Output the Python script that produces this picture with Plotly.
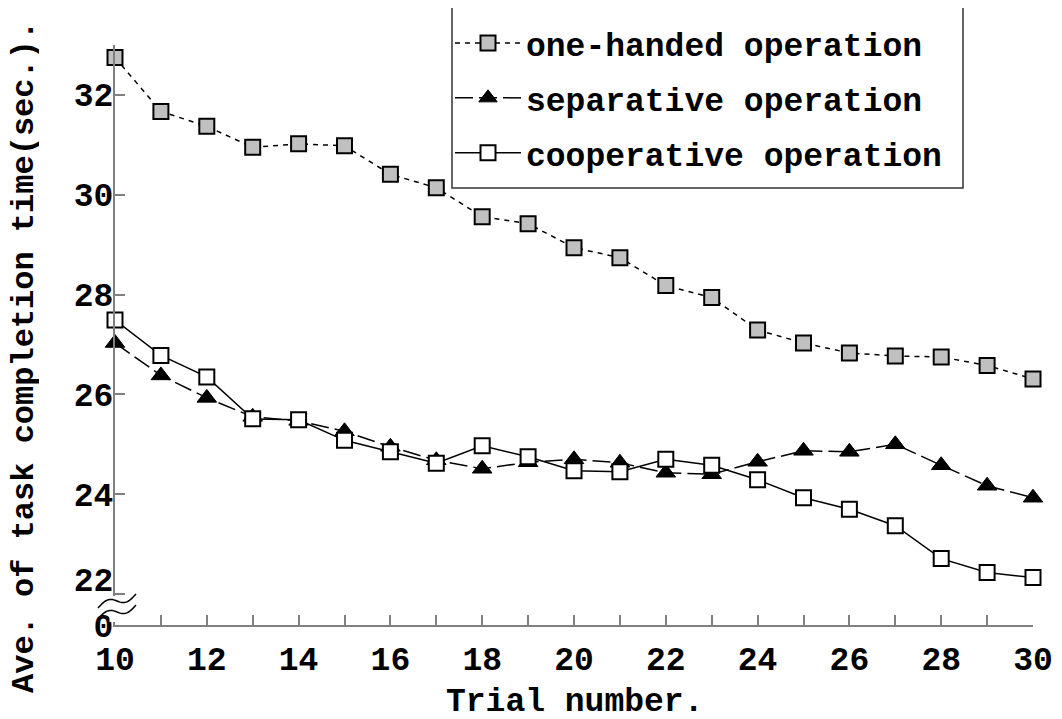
import numpy as np
import plotly.graph_objects as go

# ---------------- data ----------------
trials = list(range(10, 31))
one_handed = [32.75, 31.67, 31.37, 30.95, 31.02, 30.98, 30.41, 30.14, 29.56, 29.42,
              28.94, 28.74, 28.18, 27.94, 27.29, 27.03, 26.83, 26.77, 26.75, 26.58, 26.31]
separative = [27.03, 26.38, 25.93, 25.55, 25.47, 25.26, 24.95, 24.68, 24.51, 24.64,
              24.70, 24.63, 24.43, 24.40, 24.65, 24.87, 24.85, 25.00, 24.58, 24.17, 23.93]
cooperative = [27.49, 26.78, 26.35, 25.51, 25.49, 25.08, 24.85, 24.62, 24.97, 24.75,
               24.47, 24.45, 24.70, 24.58, 24.29, 23.93, 23.70, 23.37, 22.71, 22.43, 22.33]
series_names = ["one-handed operation", "separative operation", "cooperative operation"]
x_tick_vals = [10, 12, 14, 16, 18, 20, 22, 24, 26, 28, 30]
y_tick_vals = [22, 24, 26, 28, 30, 32]
y_tick_labels = ["0", "22", "24", "26", "28", "30", "32"]
x_title = "Trial number."
y_title = "Ave. of task completion time(sec.)."

# ---------------- layout constants ----------------
OFF = 8                      # page (body) margin of the html page
W, H = 1062 - OFF, 719 - OFF
L, R, T, B = 115 - OFF, 29, 45 - OFF, 94
Y_BOTTOM = 21.38   # axis value drawn at the "0" position (below the break)
Y_TOP = 33.0
FONT = "Liberation Mono, Courier New, monospace"
AX_COLOR = "#808080"

fig = go.Figure()
fig.add_trace(go.Scatter(
    x=trials, y=one_handed, name=series_names[0], mode="lines+markers",
    line=dict(color="black", width=1.5, dash="5px,5px"),
    marker=dict(symbol="square", size=15, color="#c0c0c0", line=dict(color="black", width=2)),
    cliponaxis=False, legendgroup="a"))
fig.add_trace(go.Scatter(
    x=trials, y=separative, name=series_names[1], mode="lines+markers",
    line=dict(color="black", width=1.5, dash="18px,6px"),
    marker=dict(symbol="triangle-up", size=17, color="black", line=dict(color="black", width=1)),
    cliponaxis=False, legendgroup="b"))
fig.add_trace(go.Scatter(
    x=trials, y=cooperative, name=series_names[2], mode="lines+markers",
    line=dict(color="black", width=1.5),
    marker=dict(symbol="square", size=15, color="white", line=dict(color="black", width=2)),
    cliponaxis=False, legendgroup="c"))

pw = W - L - R
ph = H - T - B

def px2paper(px, py):
    """screen pixel (in the 1062x719 window) -> paper coordinates"""
    return (px - OFF - L) / pw, (H - B - (py - OFF)) / ph

# break in y axis: white cover + two wavy lines
shapes = []
shapes.append(dict(type="rect", xref="paper", yref="y", x0=-0.006, x1=0.006,
                   y0=21.44, y1=21.96, fillcolor="white", line=dict(width=0), layer="above"))
for off in (0, 11):
    pts = []
    for t in np.linspace(0, 1, 30):
        bx = 98 + t * 38
        by = 608 + off - t * 14 - 4.5 * np.sin(2 * np.pi * t)
        pts.append(px2paper(bx, by))
    path = "M " + " L ".join(f"{a:.5f},{b:.5f}" for a, b in pts)
    shapes.append(dict(type="path", xref="paper", yref="paper", path=path,
                       line=dict(color="black", width=1.5), layer="above"))

# legend frame
lx0, ly0 = px2paper(452, 188)
lx1, ly1 = px2paper(963, 7)
shapes.append(dict(type="rect", xref="paper", yref="paper", x0=lx0, x1=lx1, y0=ly0, y1=ly1,
                   line=dict(color="#333333", width=1.5), fillcolor="white", layer="below"))

tx, ty = px2paper(574, 702)
yx, yy = px2paper(24, 357)
lgx, lgy = px2paper(450, 15)

fig.update_layout(
    width=W, height=H,
    margin=dict(l=L, r=R, t=T, b=B, autoexpand=False),
    paper_bgcolor="white", plot_bgcolor="rgba(0,0,0,0)",
    font=dict(family=FONT, size=33, color="black", weight="bold"),
    showlegend=True,
    legend=dict(x=lgx, y=lgy, xanchor="left", yanchor="top",
                borderwidth=0, bgcolor="rgba(0,0,0,0)",
                font=dict(family=FONT, size=33, color="black", weight="bold"),
                tracegroupgap=9, itemwidth=66),
    shapes=shapes,
    annotations=[
        dict(text=x_title, x=tx, y=ty, xref="paper", yref="paper", showarrow=False,
             xanchor="center", yanchor="middle", height=30, borderpad=0,
             font=dict(size=33)),
        dict(text=y_title, x=yx, y=yy, xref="paper", yref="paper", showarrow=False,
             textangle=-90, xanchor="center", yanchor="middle", height=30, borderpad=0,
             font=dict(size=32)),
    ],
    xaxis=dict(range=[10, 30], showline=True, linecolor=AX_COLOR, linewidth=2,
               tickmode="array", tickvals=x_tick_vals, ticks="inside", ticklen=10,
               tickcolor=AX_COLOR, tickwidth=1.5, showgrid=False, zeroline=False,
               minor=dict(dtick=1, tick0=10, ticks="inside", ticklen=10, tickcolor=AX_COLOR, tickwidth=1.5),
               ticklabelstandoff=3, automargin=False),
    yaxis=dict(range=[Y_BOTTOM, Y_TOP], showline=True, linecolor=AX_COLOR, linewidth=2,
               tickmode="array", tickvals=[Y_BOTTOM, 22.3] + y_tick_vals[1:],
               ticktext=y_tick_labels, ticks="", showgrid=False, zeroline=False,
               minor=dict(tickmode="array", tickvals=y_tick_vals, ticks="inside", ticklen=10,
                          tickcolor=AX_COLOR, tickwidth=1.5),
               ticklabelstandoff=-7, automargin=False),
)

fig.write_html("out.html")
